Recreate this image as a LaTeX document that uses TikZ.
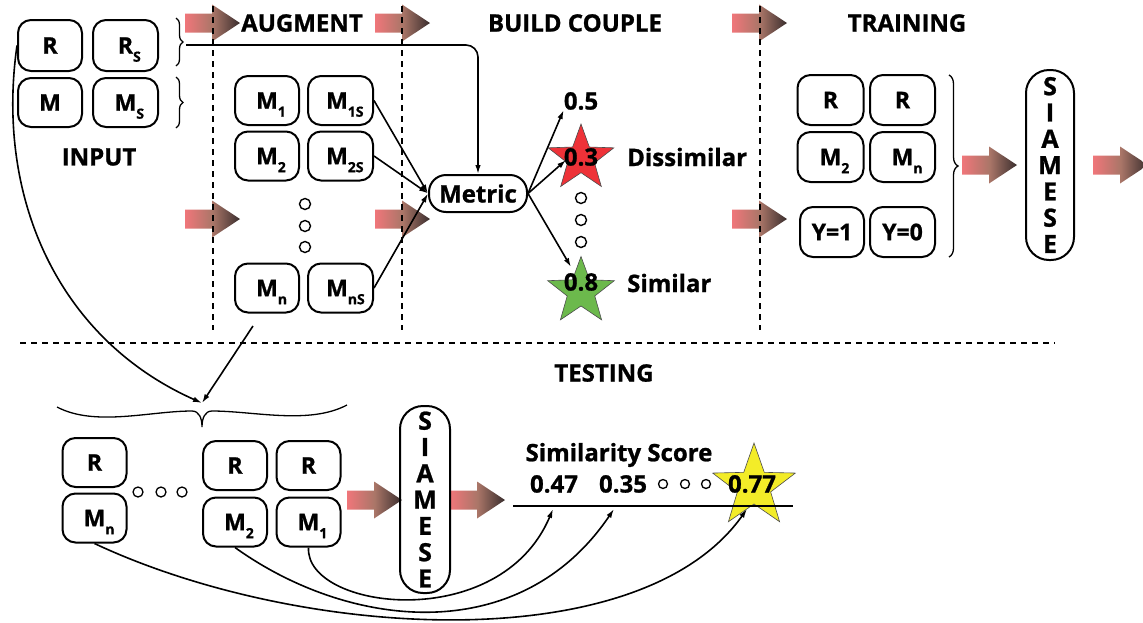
\documentclass[tikz,border=0pt]{standalone}
\usepackage{fontspec}
\setmainfont{Open Sans}[BoldFeatures={FakeBold=1}]
\usetikzlibrary{decorations.pathreplacing,arrows.meta,calc}

\definecolor{aL}{RGB}{240,118,122}
\definecolor{aM}{RGB}{170,118,104}
\definecolor{aR}{RGB}{58,46,46}
\definecolor{starRed}{RGB}{238,50,56}
\definecolor{starGreen}{RGB}{108,185,76}
\definecolor{starYellow}{RGB}{243,236,40}

% lowered subscript that does not widen the label
\newcommand\lowidx[1]{\rlap{\raisebox{-8pt}[0pt][0pt]{\fontsize{14}{14}\selectfont #1}}}
% shaded block arrow, given its left-middle point
\newcommand\flowarrow[1]{\shade[left color=aL,right color=aR,middle color=aM]
  (#1) ++(0,-9.5) -- ++(27,0) -- ++(0,-9) -- ++(28,18.5) -- ++(-28,18.5) -- ++(0,-9) -- ++(-27,0) -- cycle;}
% five-pointed star around a named coordinate: centre, outer radius, inner radius, fill
\newcommand\fivestar[4]{\draw[fill=#4, draw=black!70, line width=0.6pt]
  ($(#1)+(-90:#2)$) -- ($(#1)+(-54:#3)$) -- ($(#1)+(-18:#2)$) -- ($(#1)+(18:#3)$)
  -- ($(#1)+(54:#2)$) -- ($(#1)+(90:#3)$) -- ($(#1)+(126:#2)$) -- ($(#1)+(162:#3)$)
  -- ($(#1)+(198:#2)$) -- ($(#1)+(234:#3)$) -- cycle;}

\begin{document}
\begin{tikzpicture}[x=1pt,y=-1pt,
  box/.style={draw, line width=2pt, rounded corners=13pt, minimum width=64pt,
    minimum height=49pt, inner sep=0pt, font=\bfseries\fontsize{23}{23}\selectfont},
  siam/.style={draw, line width=2pt, rounded corners=23pt, minimum width=48pt,
    minimum height=190pt, inner sep=0pt, align=center,
    font=\bfseries\fontsize{25}{26.3}\selectfont},
  title/.style={inner sep=0pt, font=\bfseries\fontsize{24}{24}\selectfont},
  dot/.style={circle, draw, line width=1.4pt, minimum size=11pt, inner sep=0pt},
  smalldot/.style={circle, draw, line width=1.3pt, minimum size=9pt, inner sep=0pt},
  conn/.style={line width=1.6pt, -{Latex[length=9pt,width=5.5pt]}},
  sep/.style={dash pattern=on 6pt off 5pt, line width=1.4pt},
  brace/.style={decorate, decoration={brace, amplitude=#1}, line width=1.3pt}]
\useasboundingbox (0,0) rectangle (1143,622);

% flow arrows
\foreach \x/\y in {185/23,375/23,732/23,185/219,375/219,732/219,962/165,1093/165,347/500,450/500}
  {\flowarrow{\x,\y}}

% stage separators
\draw[sep] (213,6) -- (213,330);
\draw[sep] (402,6) -- (402,330);
\draw[sep] (760,6) -- (760,330);
\draw[sep] (20,343) -- (1055,343);

% headings
\node[title] (tAug) at (302,23) {AUGMENT};
\node[title] (tBuild) at (575,23) {BUILD COUPLE};
\node[title] (tTrain) at (907,23) {TRAINING};
\node[title] (tInput) at (99,157) {INPUT};
\node[title] (tTest) at (604,373) {TESTING};

% input
\node[box, minimum height=51pt] (inR) at (50,45.5) {R};
\node[box, minimum width=65pt, minimum height=51pt] (inRs) at (125.5,45.5) {R\lowidx{S}};
\node[box] (inM) at (50,102.5) {M};
\node[box, minimum width=65pt] (inMs) at (125.5,102.5) {M\lowidx{S}};
\draw[brace=7] (176,18) -- (176,66);
\draw[brace=7] (176,77) -- (176,128);
\coordinate (b1tip) at (186,45);

% augment
\node[box] (m1) at (267,100.5) {M\lowidx{1}};
\node[box, minimum width=65pt] (m1s) at (340.5,100.5) {M\lowidx{1S}\kern7pt};
\node[box] (m2) at (267,156) {M\lowidx{2}};
\node[box, minimum width=65pt] (m2s) at (340.5,156) {M\lowidx{2S}\kern7pt};
\node[dot] (ad1) at (305,204) {};
\node[dot] (ad2) at (305,226) {};
\node[dot] (ad3) at (305,247) {};
\node[box] (mn) at (267,288) {M\lowidx{n}};
\node[box, minimum width=65pt] (mns) at (340.5,288) {M\lowidx{nS}\kern7pt};
\coordinate (augout) at (253,326);

% build couple
\node[draw, line width=2pt, rounded corners=17pt, minimum width=98pt, minimum height=37pt,
  inner sep=0pt, font=\bfseries\fontsize{24}{24}\selectfont] (metric) at (478,193.5) {Metric};
\draw[conn] (m1s.east) -- (metric.west);
\draw[conn] (m2s.east) -- (metric.west);
\draw[conn] (mns.east) -- (metric.west);
\draw[conn, rounded corners=12pt] (b1tip) -| (metric.north);

\node[title] (v05) at (581,101) {0.5};
\coordinate (redstar) at (581,158.5);
\fivestar{redstar}{34.5}{14.2}{starRed}
\node[title] (v03) at (581,157) {0.3};
\node[title, anchor=west] (dis) at (627,157) {Dissimilar};
\node[dot] (bd1) at (581,198) {};
\node[dot] (bd2) at (581,220) {};
\node[dot] (bd3) at (581,242) {};
\coordinate (greenstar) at (581,291.5);
\fivestar{greenstar}{35}{14.5}{starGreen}
\node[title] (v08) at (581,282) {0.8};
\node[title, anchor=west] (sim) at (627,283) {Similar};
\coordinate (redin) at (566,160);
\coordinate (greenin) at (571,267);
\draw[conn] (metric.east) -- (v05.south west);
\draw[conn] (metric.east) -- (redin);
\draw[conn] (metric.east) -- (greenin);

% training
\node[box, minimum width=66pt, minimum height=50pt] (trR1) at (830.5,100) {R};
\node[box, minimum width=65pt, minimum height=50pt] (trR2) at (902.5,100) {R};
\node[box, minimum width=66pt, minimum height=50pt] (trM2) at (830.5,157) {M\lowidx{2}};
\node[box, minimum width=65pt, minimum height=50pt] (trMn) at (902.5,157) {M\lowidx{n}};
\node[box, minimum width=64pt, minimum height=50pt] (trY1) at (832,232) {Y=1};
\node[box, minimum width=65pt, minimum height=50pt] (trY0) at (902.5,232) {Y=0};
\draw[brace=9] (949,75) -- (949,257);
\node[siam] (siamTrain) at (1050,165) {S\\I\\A\\M\\E\\S\\E};

% testing
\coordinate (bracetop) at (202,403);
\draw[line width=1.3pt] (57,407) .. controls (95,427) and (150,411) .. (192,411)
  .. controls (199,411) and (202,418) .. (202,427)
  .. controls (202,418) and (205,411) .. (212,411)
  .. controls (254,411) and (309,425) .. (347,405);
\draw[conn] (inR.west) .. controls (-5,200) and (60,340) .. (bracetop);
\draw[conn] (augout) -- (bracetop);

\node[box] (tR3) at (94.5,462.5) {R};
\node[box] (tMn) at (94.5,518) {M\lowidx{n}};
\node[smalldot, minimum size=10pt] (td1) at (138,492) {};
\node[smalldot, minimum size=10pt] (td2) at (161,492) {};
\node[smalldot, minimum size=10pt] (td3) at (182,492) {};
\node[box] (tR2) at (235,465.5) {R};
\node[box] (tM2) at (235,522) {M\lowidx{2}};
\node[box] (tR1) at (308.5,465.5) {R};
\node[box] (tM1) at (308.5,522) {M\lowidx{1}};
\node[siam, minimum width=50pt, minimum height=187pt] (siamTest) at (425,499.5) {S\\I\\A\\M\\E\\S\\E};

\node[title] (simscore) at (619,455) {Similarity Score};
\coordinate (ystar) at (754,486.5);
\fivestar{ystar}{43.5}{17.5}{starYellow}
\node[title] (v047) at (554,484) {0.47};
\node[title] (v035) at (623,484) {0.35};
\node[smalldot] (sd1) at (663,484) {};
\node[smalldot] (sd2) at (685,484) {};
\node[smalldot] (sd3) at (706,484) {};
\node[title] (v077) at (752,484) {0.77};
\coordinate (sl) at (513,506);
\coordinate (sr) at (793,506);
\draw[line width=1.5pt] (sl) -- (sr);

\coordinate (e047) at (553,509);
\coordinate (e035) at (614,509);
\coordinate (e077) at (747,509);
\draw[conn] (tM1.south) .. controls (305,610) and (500,635) .. (e047);
\draw[conn] (tM2.south) .. controls (350,630) and (520,648) .. (e035);
\draw[conn] (tMn.south) .. controls (300,640) and (640,660) .. (e077);
\end{tikzpicture}
\end{document}
